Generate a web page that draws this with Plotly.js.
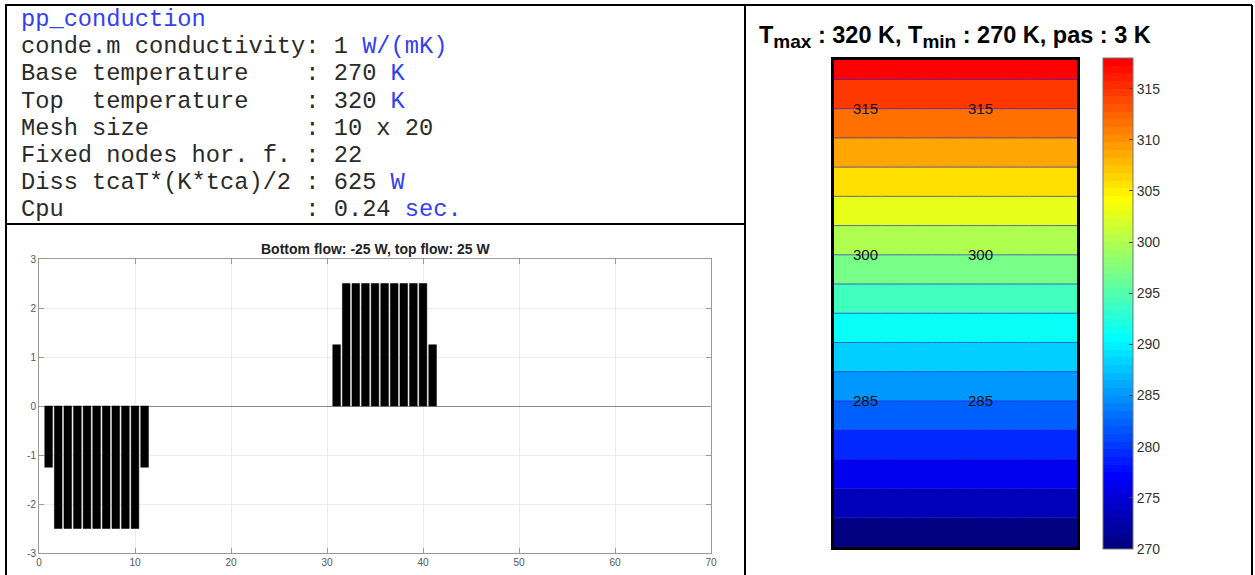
<!DOCTYPE html>
<html>
<head>
<meta charset="utf-8">
<script src="https://cdn.plot.ly/plotly-3.0.1.min.js"></script>
<style>html,body{margin:0;padding:0;background:#fff;}#chart{width:1255px;height:575px;}</style>
</head>
<body>
<div id="chart"></div>
<script>
// ---------- data ----------
// text panel (plain part, blue part)
const infoMain = ["", "conde.m conductivity: 1 ", "Base temperature    : 270 ", "Top  temperature    : 320 ",
  "Mesh size           : 10 x 20", "Fixed nodes hor. f. : 22", "Diss tcaT*(K*tca)/2 : 625 ", "Cpu                 : 0.24 "];
const infoBlue = ["pp_conduction", "W/(mK)", "K", "K", "", "", "W", "sec."];

// nodal heat flows (bar chart)
const flowNodes = [1, 2, 3, 4, 5, 6, 7, 8, 9, 10, 11, 31, 32, 33, 34, 35, 36, 37, 38, 39, 40, 41];
const flowValues = [-1.25, -2.5, -2.5, -2.5, -2.5, -2.5, -2.5, -2.5, -2.5, -2.5, -1.25,
  1.25, 2.5, 2.5, 2.5, 2.5, 2.5, 2.5, 2.5, 2.5, 2.5, 1.25];
const flowTitle = "Bottom flow: -25 W, top flow: 25 W";
const flowXTicks = [0, 10, 20, 30, 40, 50, 60, 70];
const flowYTicks = [-3, -2, -1, 0, 1, 2, 3];

// temperature field on the 10 x 20 mesh
const xNodes = [0, 1, 2, 3, 4, 5, 6, 7, 8, 9, 10];
const yNodes = [0, 1, 2, 3, 4, 5, 6, 7, 8, 9, 10, 11, 12, 13, 14, 15, 16, 17, 18, 19, 20];
const rowTemps = [270, 272.5, 275, 277.5, 280, 282.5, 285, 287.5, 290, 292.5, 295,
  297.5, 300, 302.5, 305, 307.5, 310, 312.5, 315, 317.5, 320];
const Tmax = 320, Tmin = 270, step = 3, levelTop = 318;
const labelLevels = [315, 300, 285];
const cbarTicks = [270, 275, 280, 285, 290, 295, 300, 305, 310, 315];

// ---------- helpers ----------
const W = 1255, H = 575;
const px = v => v / W;
const py = v => 1 - v / H;
function clamp(v) { return Math.max(0, Math.min(1, v)); }
function jet(u) {
  return [clamp(1.5 - Math.abs(4 * u - 3)), clamp(1.5 - Math.abs(4 * u - 2)), clamp(1.5 - Math.abs(4 * u - 1))];
}
function cmap(s) { // truncated jet (navy -> red)
  const c = jet(0.875 * s);
  return 'rgb(' + c.map(v => Math.round(v * 255)).join(',') + ')';
}
const smoothScale = [0, 1 / 7, 3 / 7, 5 / 7, 1].map(s => [s, cmap(s)]);
const stepScale = [];
const NSTEP = 64;
for (let j = 0; j < NSTEP; j++) {
  const c = cmap(j / (NSTEP - 1));
  stepScale.push([j / NSTEP, c]);
  stepScale.push([(j + 1) / NSTEP, c]);
}
const zGrid = rowTemps.map(t => xNodes.map(() => t));
const sp = s => s.replace(/ /g, '\u00A0');
const blue = '#3340f2';

// ---------- traces ----------
const traces = [
  {
    type: 'bar', x: flowNodes, y: flowValues, xaxis: 'x', yaxis: 'y', width: 0.8,
    marker: { color: '#000', line: { color: '#000', width: 0.5 } }, hoverinfo: 'x+y'
  },
  {
    type: 'heatmap', x: xNodes, y: yNodes, z: zGrid, xaxis: 'x2', yaxis: 'y2',
    zmin: Tmin, zmax: levelTop, colorscale: stepScale, showscale: true, hoverinfo: 'skip',
    colorbar: {
      x: px(1103), xanchor: 'left', xref: 'paper', y: py(549), yanchor: 'bottom', yref: 'paper',
      len: 491 / H, lenmode: 'fraction', thickness: 30, thicknessmode: 'pixels',
      xpad: 0, ypad: 0, outlinewidth: 1, outlinecolor: '#777',
      tickmode: 'array', tickvals: cbarTicks, ticks: 'inside', ticklen: 4, tickcolor: '#444',
      tickfont: { family: 'Liberation Sans, Arial, sans-serif', size: 14, color: '#333' }
    }
  },
  {
    type: 'contour', x: xNodes, y: yNodes, z: zGrid, xaxis: 'x2', yaxis: 'y2',
    autocontour: false,
    contours: { start: Tmin + step, end: levelTop, size: step, coloring: 'fill', showlines: true },
    line: { color: 'rgba(40,40,210,0.7)', width: 1, smoothing: 0 },
    colorscale: smoothScale, showscale: false, hoverinfo: 'z'
  }
];

// ---------- annotations ----------
const ann = [];
infoMain.forEach((t, i) => {
  let txt = sp(t);
  if (infoBlue[i]) txt += '<span style="color:' + blue + '">' + sp(infoBlue[i]) + '</span>';
  ann.push({
    xref: 'paper', yref: 'paper', x: px(19), y: py(19.5 + i * 27.2), xanchor: 'left', yanchor: 'middle',
    text: txt, showarrow: false,
    font: { family: 'Liberation Mono, Courier New, monospace', size: 23.7, color: '#2a2a2a' }
  });
});
ann.push({
  xref: 'paper', yref: 'paper', x: px(375), y: py(248.5), xanchor: 'center', yanchor: 'middle',
  text: '<b>' + flowTitle + '</b>', showarrow: false,
  font: { family: 'Liberation Sans, Arial, sans-serif', size: 14, color: '#222' }
});
ann.push({
  xref: 'paper', yref: 'paper', x: px(757), y: py(37), xanchor: 'left', yanchor: 'middle',
  text: '<b>T<sub><span style="font-size:19px">max</span></sub> : ' + Tmax + ' K, T<sub><span style="font-size:19px">min</span></sub> : ' +
    Tmin + ' K, pas : ' + step + ' K</b>',
  showarrow: false,
  font: { family: 'Liberation Sans, Arial, sans-serif', size: 23.5, color: '#000' }
});
const yOfT = t => (t - Tmin) / (Tmax - Tmin) * yNodes[yNodes.length - 1];
labelLevels.forEach(lv => {
  [1.28, 6.02].forEach(xx => {
    ann.push({
      xref: 'x2', yref: 'y2', x: xx, y: yOfT(lv), xanchor: 'center', yanchor: 'middle',
      text: String(lv), showarrow: false,
      font: { family: 'Liberation Sans, Arial, sans-serif', size: 15, color: '#111' }
    });
  });
});

// ---------- table borders ----------
const lineStyle = { color: '#000', width: 2 };
const shapes = [
  { type: 'line', xref: 'paper', yref: 'paper', x0: px(5), x1: px(1252), y0: py(5), y1: py(5), line: lineStyle },
  { type: 'line', xref: 'paper', yref: 'paper', x0: px(6), x1: px(6), y0: py(5), y1: py(580), line: lineStyle },
  { type: 'line', xref: 'paper', yref: 'paper', x0: px(745), x1: px(745), y0: py(5), y1: py(580), line: lineStyle },
  { type: 'line', xref: 'paper', yref: 'paper', x0: px(1252), x1: px(1252), y0: py(5), y1: py(580), line: lineStyle },
  { type: 'line', xref: 'paper', yref: 'paper', x0: px(5), x1: px(745), y0: py(224), y1: py(224), line: lineStyle }
];

const tickFont = { family: 'Liberation Sans, Arial, sans-serif', size: 10, color: '#555' };
const layout = {
  width: W, height: H, margin: { l: 0, r: 0, t: 0, b: 0 },
  paper_bgcolor: '#fff', plot_bgcolor: '#fff', showlegend: false,
  xaxis: {
    domain: [px(39), px(711)], range: [0, 70], tickmode: 'array', tickvals: flowXTicks,
    ticktext: flowXTicks.map(String),
    showgrid: true, gridcolor: '#ececec', zeroline: false, showline: true, linecolor: '#9a9a9a', linewidth: 1,
    mirror: 'ticks', ticks: 'inside', ticklen: 5, tickcolor: '#9a9a9a', tickfont: tickFont, anchor: 'y'
  },
  yaxis: {
    domain: [py(553), py(259)], range: [-3, 3], tickmode: 'array', tickvals: flowYTicks,
    ticktext: flowYTicks.map(String),
    showgrid: true, gridcolor: '#ececec', zeroline: true, zerolinecolor: '#8a8a8a', zerolinewidth: 1,
    showline: true, linecolor: '#9a9a9a', linewidth: 1,
    mirror: 'ticks', ticks: 'inside', ticklen: 5, tickcolor: '#9a9a9a', tickfont: tickFont, anchor: 'x'
  },
  xaxis2: {
    domain: [px(834), px(1077)], range: [0, 10], showticklabels: false, ticks: '', showgrid: false,
    zeroline: false, showline: true, mirror: true, linecolor: '#000', linewidth: 3, anchor: 'y2'
  },
  yaxis2: {
    domain: [py(547), py(60)], range: [0, 20], showticklabels: false, ticks: '', showgrid: false,
    zeroline: false, showline: true, mirror: true, linecolor: '#000', linewidth: 3, anchor: 'x2'
  },
  annotations: ann,
  shapes: shapes
};

Plotly.newPlot('chart', traces, layout, { displayModeBar: false, responsive: false });
</script>
</body>
</html>
